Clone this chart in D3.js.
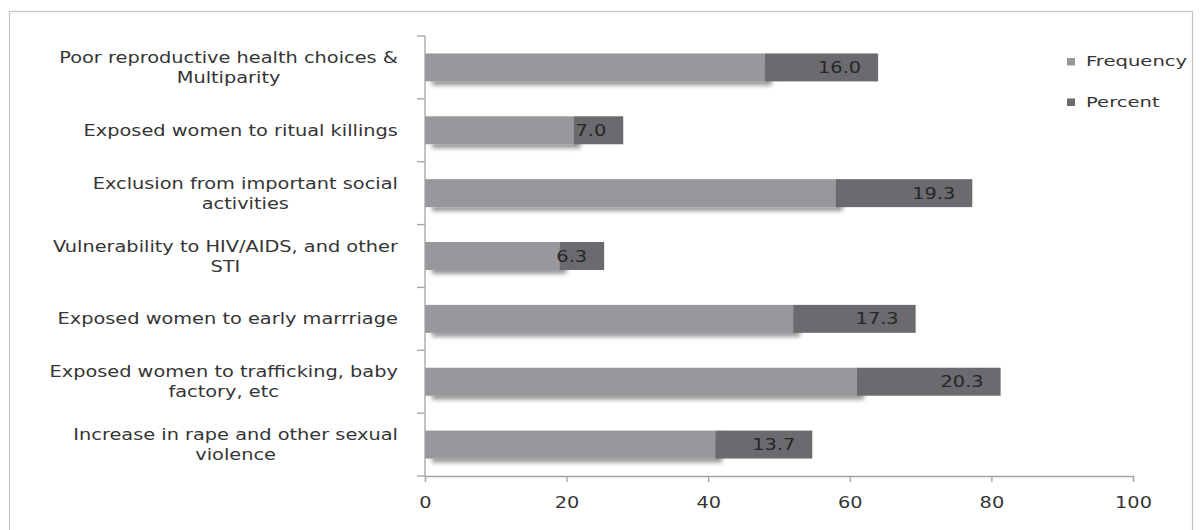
<!DOCTYPE html>
<html>
<head>
<meta charset="utf-8">
<script src="https://cdn.jsdelivr.net/npm/d3@7"></script>
<style>
  html, body { margin: 0; padding: 0; background: #fff; }
  svg { display: block; }
  text { font-family: "DejaVu Sans", Verdana, sans-serif; fill: #353535; }
</style>
</head>
<body>
<svg id="chart" width="1201" height="530"></svg>
<script>
// Consequences reported by respondents (n = 300)
const categories = [
  "Poor reproductive health choices &\nMultiparity",
  "Exposed women to ritual killings",
  "Exclusion from important social\nactivities",
  "Vulnerability to HIV/AIDS, and other\nSTI",
  "Exposed women to early marrriage",
  "Exposed women to trafficking, baby\nfactory, etc",
  "Increase in rape and other sexual\nviolence"
];
const frequency = [48, 21, 58, 19, 52, 61, 41];
const percent = [16.0, 7.0, 19.3, 6.3, 17.3, 20.3, 13.7];
const seriesNames = ["Frequency", "Percent"];
const xTicks = [0, 20, 40, 60, 80, 100];

const colors = { Frequency: "#98989c", Percent: "#6b6b6f" };
const K = 1.29;           // horizontal stretch applied to all text
const FONT = 15;

const svg = d3.select("#chart");

// soft drop shadow under the frequency bars
const defs = svg.append("defs");
const f = defs.append("filter").attr("id", "shadow")
  .attr("x", "-5%").attr("y", "-40%").attr("width", "115%").attr("height", "190%");
f.append("feGaussianBlur").attr("in", "SourceAlpha").attr("stdDeviation", 2.2);
f.append("feOffset").attr("dx", 7).attr("dy", 4).attr("result", "off");
const ct = f.append("feComponentTransfer").attr("in", "off").attr("result", "sh");
ct.append("feFuncA").attr("type", "linear").attr("slope", 0.4);
const fm = f.append("feMerge");
fm.append("feMergeNode").attr("in", "sh");
fm.append("feMergeNode").attr("in", "SourceGraphic");

// outer frame
svg.append("rect")
  .attr("x", 9.5).attr("y", 11.5).attr("width", 1183).attr("height", 530)
  .attr("fill", "none").attr("stroke", "#c4c4c4").attr("stroke-width", 1.2);

const x = d3.scaleLinear().domain([0, 100]).range([425, 1133]);
const y = d3.scaleBand().domain(categories).range([36, 476])
  .paddingInner(0.555).paddingOuter(0.2775);

const rows = categories.map((c, i) => ({
  cat: c, freq: frequency[i], pct: percent[i]
}));

// frequency segments
svg.append("g").selectAll("rect").data(rows).join("rect")
  .attr("x", x(0))
  .attr("y", d => y(d.cat))
  .attr("width", d => x(d.freq) - x(0))
  .attr("height", y.bandwidth())
  .attr("fill", colors.Frequency)
  .attr("filter", "url(#shadow)");

// percent segments stacked after frequency
svg.append("g").selectAll("rect").data(rows).join("rect")
  .attr("x", d => x(d.freq))
  .attr("y", d => y(d.cat))
  .attr("width", d => x(d.freq + d.pct) - x(d.freq))
  .attr("height", y.bandwidth())
  .attr("fill", colors.Percent);

// value labels on percent segments
svg.append("g").selectAll("text").data(rows).join("text")
  .attr("transform", d => `translate(${x(d.freq + d.pct) - 17},${y(d.cat) + y.bandwidth() / 2 + 5.5}) scale(${K},1)`)
  .attr("text-anchor", "end")
  .style("font-size", FONT + "px")
  .style("fill", "#262626")
  .text(d => d3.format(".1f")(d.pct));

// category axis (ticks at band boundaries)
const axisColor = "#a3a3a3";
const yAxis = svg.append("g");
yAxis.append("line")
  .attr("x1", x(0)).attr("x2", x(0))
  .attr("y1", y.range()[0]).attr("y2", y.range()[1])
  .attr("stroke", axisColor).attr("stroke-width", 1.3);
yAxis.selectAll("line.tk").data(d3.range(categories.length + 1)).join("line")
  .attr("class", "tk")
  .attr("x1", x(0) - 8).attr("x2", x(0))
  .attr("y1", i => y.range()[0] + i * y.step())
  .attr("y2", i => y.range()[0] + i * y.step())
  .attr("stroke", axisColor).attr("stroke-width", 1.3);

// category labels: lines centred within a right-aligned block
const labelRight = 398;
const lineGap = 20;
categories.forEach(c => {
  const lines = c.split("\n");
  const cy = y(c) + y.bandwidth() / 2;
  const tmp = lines.map(l => svg.append("text").style("font-size", FONT + "px").text(l));
  const widths = tmp.map(t => t.node().getComputedTextLength() * K);
  tmp.forEach(t => t.remove());
  const blockW = d3.max(widths);
  const mid = labelRight - blockW / 2;
  lines.forEach((l, i) => {
    const by = cy + 5.5 + (i - (lines.length - 1) / 2) * lineGap;
    svg.append("text")
      .attr("transform", `translate(${mid},${by}) scale(${K},1)`)
      .attr("text-anchor", "middle")
      .style("font-size", FONT + "px")
      .text(l);
  });
});

// value axis
const xAxis = svg.append("g")
  .attr("transform", `translate(0,${y.range()[1]})`)
  .call(d3.axisBottom(x).tickValues(xTicks).tickSize(6).tickSizeOuter(6).tickPadding(15));
xAxis.select(".domain").attr("stroke", axisColor).attr("stroke-width", 1.3);
xAxis.selectAll(".tick line").attr("stroke", axisColor).attr("stroke-width", 1.3);
xAxis.selectAll(".tick text")
  .attr("transform", `scale(${K},1)`)
  .style("font-family", "'DejaVu Sans', Verdana, sans-serif")
  .style("font-size", FONT + "px")
  .attr("fill", "#3a3a3a");

// legend
const legend = svg.append("g");
seriesNames.forEach((s, i) => {
  const ly = 66 + i * 40.5;
  legend.append("rect")
    .attr("x", 1067).attr("y", ly - 8).attr("width", 8).attr("height", 7.5)
    .attr("fill", colors[s]);
  legend.append("text")
    .attr("transform", `translate(1086,${ly}) scale(1.42,1)`)
    .style("font-size", "13.8px")
    .text(s);
});
</script>
</body>
</html>
